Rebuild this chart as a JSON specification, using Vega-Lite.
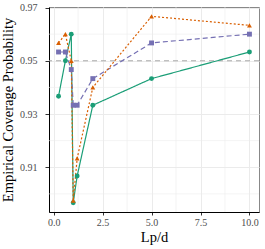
{
  "$schema": "https://vega.github.io/schema/vega-lite/v6.json",
  "autosize": {"type": "none"},
  "padding": {"left": 49, "top": 7, "right": 6, "bottom": 37},
  "width": 210,
  "height": 205,
  "background": "white",
  "config": {
    "view": {"stroke": "#888888", "strokeWidth": 1},
    "axis": {
      "labelFont": "Liberation Serif",
      "titleFont": "Liberation Serif",
      "labelColor": "#4D4D4D",
      "labelFontSize": 10,
      "titleFontSize": 14.5,
      "titleFontWeight": "normal",
      "titleColor": "#000000",
      "domainColor": "#000000",
      "domainWidth": 1,
      "tickColor": "#333333",
      "gridColor": "#EBEBEB",
      "gridWidth": 1,
      "labelOverlap": false
    }
  },
  "datasets": {
    "ref": [{"y": 0.95}],
    "minorx": [{"x": 1.25}, {"x": 3.75}, {"x": 6.25}, {"x": 8.75}],
    "minory": [{"y": 0.90}, {"y": 0.92}, {"y": 0.94}, {"y": 0.96}],
    "cov": [
      {"s": "A", "x": 0.25, "y": 0.9367},
      {"s": "A", "x": 0.6, "y": 0.95},
      {"s": "A", "x": 0.9, "y": 0.96},
      {"s": "A", "x": 1.0, "y": 0.8967},
      {"s": "A", "x": 1.2, "y": 0.9067},
      {"s": "A", "x": 2, "y": 0.9333},
      {"s": "A", "x": 5, "y": 0.9433},
      {"s": "A", "x": 10, "y": 0.9533},
      {"s": "B", "x": 0.25, "y": 0.9533},
      {"s": "B", "x": 0.6, "y": 0.9533},
      {"s": "B", "x": 0.9, "y": 0.9467},
      {"s": "B", "x": 1.0, "y": 0.9333},
      {"s": "B", "x": 1.2, "y": 0.9333},
      {"s": "B", "x": 2, "y": 0.9433},
      {"s": "B", "x": 5, "y": 0.9567},
      {"s": "B", "x": 10, "y": 0.96},
      {"s": "C", "x": 0.25, "y": 0.9567},
      {"s": "C", "x": 0.6, "y": 0.96},
      {"s": "C", "x": 0.9, "y": 0.95},
      {"s": "C", "x": 1.0, "y": 0.8975},
      {"s": "C", "x": 1.2, "y": 0.9133},
      {"s": "C", "x": 2, "y": 0.94},
      {"s": "C", "x": 5, "y": 0.9667},
      {"s": "C", "x": 10, "y": 0.9633}
    ]
  },
  "layer": [
    {
      "data": {"name": "minorx"},
      "mark": {"type": "rule", "color": "#EBEBEB", "strokeWidth": 0.6},
      "encoding": {
        "x": {
          "field": "x", "type": "quantitative", "title": "Lp/d",
          "scale": {"domain": [-0.2375, 10.4875], "nice": false, "zero": false},
          "axis": {
            "values": [0, 2.5, 5, 7.5, 10],
            "format": ".1f",
            "grid": true,
            "tickSize": 3,
            "labelPadding": 2,
            "titlePadding": 3
          }
        }
      }
    },
    {
      "data": {"name": "minory"},
      "mark": {"type": "rule", "color": "#EBEBEB", "strokeWidth": 0.6},
      "encoding": {
        "y": {
          "field": "y", "type": "quantitative", "title": "Empirical Coverage Probability",
          "scale": {"domain": [0.8932, 0.9702], "nice": false, "zero": false},
          "axis": {
            "values": [0.91, 0.93, 0.95, 0.97],
            "format": ".2f",
            "grid": true,
            "tickSize": 4,
            "labelPadding": 8,
            "titlePadding": 4
          }
        }
      }
    },
    {
      "data": {"name": "ref"},
      "mark": {"type": "rule", "color": "#AAAAAA", "strokeDash": [5, 4], "strokeWidth": 1},
      "encoding": {
        "y": {"field": "y", "type": "quantitative"}
      }
    },
    {
      "data": {"name": "cov"},
      "mark": {"type": "line", "strokeWidth": 1.2},
      "encoding": {
        "x": {"field": "x", "type": "quantitative"},
        "y": {"field": "y", "type": "quantitative"},
        "color": {
          "field": "s", "type": "nominal", "legend": null,
          "scale": {"domain": ["A", "B", "C"], "range": ["#1B9E77", "#7570B3", "#D95F02"]}
        },
        "strokeDash": {
          "field": "s", "type": "nominal", "legend": null,
          "scale": {"domain": ["A", "B", "C"], "range": [[1, 0], [5, 3], [2, 2]]}
        }
      }
    },
    {
      "data": {"name": "cov"},
      "mark": {"type": "point", "filled": true, "opacity": 1, "size": 24},
      "encoding": {
        "x": {"field": "x", "type": "quantitative"},
        "y": {"field": "y", "type": "quantitative"},
        "color": {
          "field": "s", "type": "nominal", "legend": null,
          "scale": {"domain": ["A", "B", "C"], "range": ["#1B9E77", "#7570B3", "#D95F02"]}
        },
        "shape": {
          "field": "s", "type": "nominal", "legend": null,
          "scale": {"domain": ["A", "B", "C"], "range": ["circle", "square", "triangle-up"]}
        }
      }
    }
  ]
}
